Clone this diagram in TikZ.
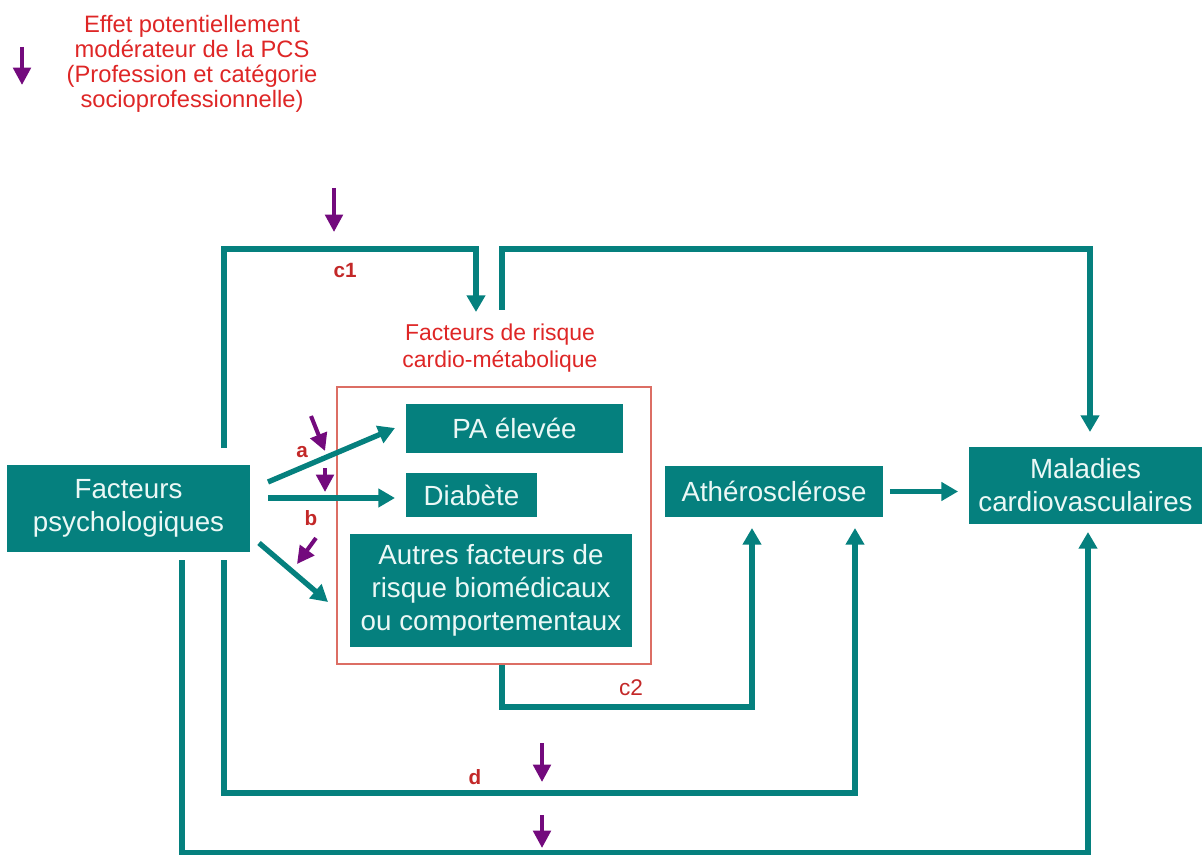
\documentclass[tikz,border=0pt]{standalone}
\usepackage{fontspec}
\setmainfont{Liberation Sans}
\usetikzlibrary{arrows.meta}
\definecolor{teal2}{RGB}{5,128,126}
\definecolor{boxtxt}{RGB}{235,248,246}
\definecolor{purp}{RGB}{115,10,125}
\definecolor{redt}{RGB}{222,38,38}
\definecolor{redl}{RGB}{195,40,40}
\definecolor{redbox}{RGB}{220,110,100}
\begin{document}
\begin{tikzpicture}[x=0.75pt,y=-0.75pt,
  box/.style={fill=teal2,text=boxtxt,inner sep=0pt,align=center,font=\fontsize{20.8}{24.75}\selectfont},
  tline/.style={draw=teal2,line width=4pt},
  tarr/.style={tline,-{Triangle[length=12.5pt,width=13.5pt]}},
  parr/.style={draw=purp,line width=3pt,-{Triangle[length=13pt,width=13pt]}},
  lab/.style={text=redl,inner sep=0pt,font=\fontsize{15.5}{18}\selectfont\bfseries},
  ]
\useasboundingbox (0,0) rectangle (1203,855);
% nodes
\node[box,minimum width=182.25pt,minimum height=65.25pt] (fp) at (128.5,508.5) {Facteurs\\psychologiques};
\node[draw=redbox,line width=1.1pt,inner sep=0pt,minimum width=235.5pt,minimum height=207.75pt] (rbox) at (494,525.5) {};
\node[box,minimum width=162.75pt,minimum height=36.75pt] (pa) at (514.5,428.5) {PA élevée};
\node[box,minimum width=98.25pt,minimum height=33pt] (dia) at (471.5,495) {Diabète};
\node[box,minimum width=211.5pt,minimum height=84.75pt] (aut) at (491,590.5) {Autres facteurs de\\risque biomédicaux\\ou comportementaux};
\node[box,minimum width=163.5pt,minimum height=38.25pt] (ath) at (774,491.5) {Athérosclérose};
\node[box,minimum width=174.75pt,minimum height=57.75pt] (mal) at (1085.5,485.5) {Maladies\\cardiovasculaires};
\node[text=redt,align=center,inner sep=0pt,font=\fontsize{17.2}{20.25}\selectfont] (rtit) at (500,348) {Facteurs de risque\\cardio-métabolique};
\node[text=redt,align=center,inner sep=0pt,font=\fontsize{17.8}{18.75}\selectfont] (leg) at (192,64) {Effet potentiellement\\modérateur de la PCS\\(Profession et catégorie\\socioprofessionnelle)};
% labels
\node[lab] (lc1) at (345,270) {c1};
\node[lab] (la) at (302,452) {a};
\node[lab] (lb) at (311,518) {b};
\node[lab] (ld) at (475,777) {d};
\node[text=redl,inner sep=0pt,font=\fontsize{17}{20}\selectfont] (lc2) at (631,688) {c2};
% coordinates
\coordinate (c1s) at (224,448);
\coordinate (c1k) at (224,249);
\coordinate (c1t) at (476,312);
\coordinate (tps) at (502,310);
\coordinate (tpk) at (502,249);
\coordinate (malt) at (1090,432);
\coordinate (c2k) at (502,707);
\coordinate (atl) at (752,528);
\coordinate (ds) at (224,560);
\coordinate (dk) at (224,793);
\coordinate (atr) at (855,528);
\coordinate (os) at (182,560);
\coordinate (ok) at (182,853);
\coordinate (malb) at (1088,532);
\coordinate (as) at (268,482);
\coordinate (ae) at (395,428);
\coordinate (bs) at (268,498);
\coordinate (be) at (395,498);
\coordinate (cs) at (259,543);
\coordinate (ce) at (328,602);
% teal connectors
\draw[tarr] (c1s) -- (c1k) -| (c1t);
\draw[tarr] (tps) -- (tpk) -| (malt);
\draw[tarr] (rbox.south -| c2k) -- (c2k) -| (atl);
\draw[tarr] (ds) -- (dk) -| (atr);
\draw[tarr] (os) -- (ok) -| (malb);
\draw[tarr] ([xshift=5pt]ath.east) -- ([xshift=-8pt]ath.east -| mal.west);
\draw[tarr] (as) -- (ae);
\draw[tarr] (bs) -- (be);
\draw[tarr] (cs) -- (ce);
% purple moderator arrows
\coordinate (p0s) at (22,47);   \coordinate (p0e) at (22,85);
\coordinate (p1s) at (334,188); \coordinate (p1e) at (334,232);
\coordinate (p2s) at (311,416); \coordinate (p2e) at (325,451);
\coordinate (p3s) at (325,468); \coordinate (p3e) at (325,492);
\coordinate (p4s) at (316,538); \coordinate (p4e) at (297,564);
\coordinate (p5s) at (542,743); \coordinate (p5e) at (542,782);
\coordinate (p6s) at (542,815); \coordinate (p6e) at (542,848);
\foreach \i in {0,...,6} {\draw[parr] (p\i s) -- (p\i e);}
\end{tikzpicture}
\end{document}
